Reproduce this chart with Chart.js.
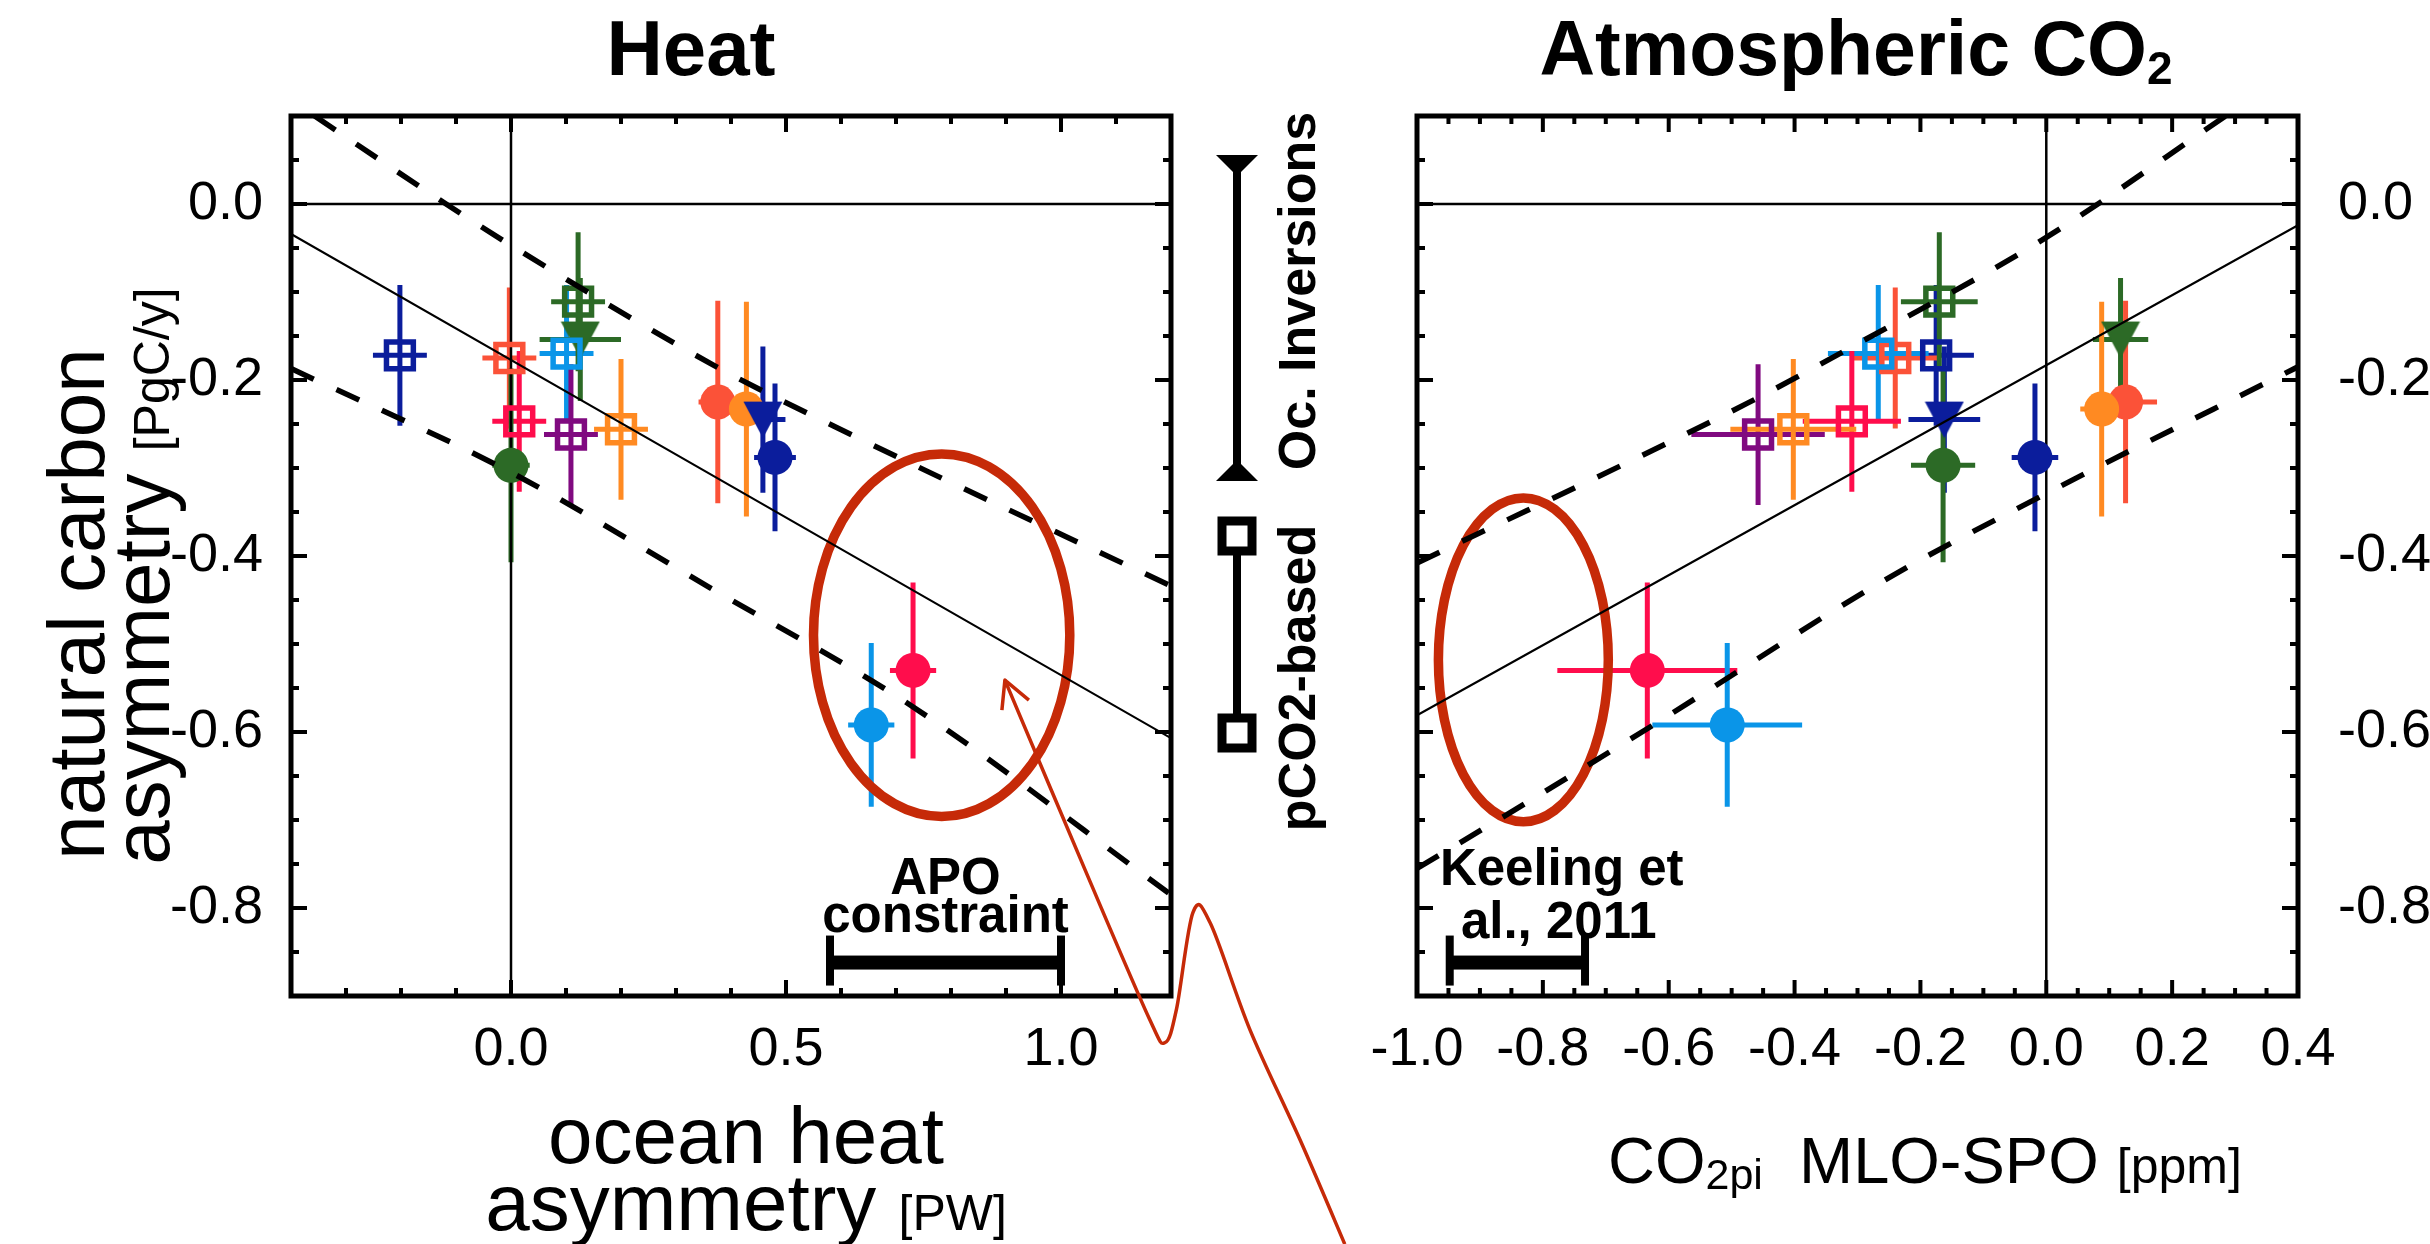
<!DOCTYPE html>
<html>
<head>
<meta charset="utf-8">
<script src="https://cdn.jsdelivr.net/npm/chart.js@4.4.1/dist/chart.umd.min.js"></script>
<style>
  html, body { margin: 0; padding: 0; background: #fff; }
  #wrap { position: relative; width: 2430px; height: 1244px; overflow: hidden; background: #fff; }
  #wrap canvas { position: absolute; left: 0; top: 0; }
</style>
</head>
<body>
<div id="wrap">
  <canvas id="heatChart" width="2430" height="1244"></canvas>
  <canvas id="co2Chart" width="2430" height="1244"></canvas>
</div>
<script>
const FONT = "'Liberation Sans', Arial, Helvetica, sans-serif";

// ---- estimates, one entry per model / product ----
const symbols = ['square', 'square', 'square', 'square', 'square', 'square', 'square',
                 'triangle', 'triangle',
                 'circle', 'circle', 'circle', 'circle', 'circle', 'circle'];
const colors = ['#0b1d9c', '#fb5238', '#0a95e8', '#2c6a26', '#ff0d4c', '#800a80', '#ff8a22',
                '#2c6a26', '#0b1d9c',
                '#2c6a26', '#fb5238', '#ff8a22', '#0b1d9c', '#ff0d4c', '#0a95e8'];
// natural carbon asymmetry [PgC/y]
const carbonAsym    = [-0.172, -0.175, -0.170, -0.111, -0.247, -0.262, -0.256, -0.154, -0.245, -0.297, -0.225, -0.233, -0.288, -0.530, -0.592];
const carbonAsymErr = [ 0.080,  0.080,  0.078,  0.079,  0.080,  0.080,  0.080,  0.070,  0.083,  0.110,  0.115,  0.122,  0.084,  0.100,  0.093];
// ocean heat asymmetry [PW]
const heatAsym      = [-0.202, -0.003,  0.101,  0.122,  0.015,  0.109,  0.200,  0.126,  0.458,  0.000,  0.376,  0.428,  0.480,  0.731,  0.655];
const heatAsymErr   = [ 0.049,  0.049,  0.049,  0.049,  0.049,  0.049,  0.049,  0.074,  0.041,  0.034,  0.035,  0.030,  0.038,  0.042,  0.042];
// pre-industrial CO2 MLO-SPO [ppm]
const co2Grad       = [-0.175, -0.240, -0.267, -0.170, -0.309, -0.458, -0.402,  0.118, -0.162, -0.164,  0.126,  0.088, -0.018, -0.634, -0.507];
const co2GradErr    = [ 0.060,  0.070,  0.080,  0.061,  0.078,  0.106,  0.100,  0.044,  0.057,  0.051,  0.050,  0.034,  0.037,  0.143,  0.119];

// ---- regression lines and their bands ----
const heatFitX   = [-0.4, 1.2];
const heatFitY   = [-0.034, -0.607];
const heatUpperX = [-0.357, -0.118, 0.0, 0.368, 0.625, 1.2];
const heatUpperY = [ 0.100,  0.000, -0.047, -0.183, -0.264, -0.434];
const heatLowerX = [-0.4, 0.0, 0.359, 0.725, 1.2];
const heatLowerY = [-0.187, -0.305, -0.435, -0.569, -0.785];

const co2FitX   = [-1.0, 0.4];
const co2FitY   = [-0.581, -0.024];
const co2UpperX = [-1.0, -0.474, -0.308, 0.0, 0.285];
const co2UpperY = [-0.408, -0.226, -0.162, -0.038, 0.100];
const co2LowerX = [-1.0, -0.846, -0.620, -0.256, 0.0, 0.4];
const co2LowerY = [-0.755, -0.689, -0.590, -0.427, -0.329, -0.185];

// ---- observational constraints ----
const apoConstraint     = [0.58, 1.0];      // PW
const keelingConstraint = [-0.948, -0.733]; // ppm
const heatEllipse = { cx: 0.783, cy: -0.490, rx: 0.233, ry: 0.206 };
const co2Ellipse  = { cx: -0.831, cy: -0.518, rx: 0.135, ry: 0.184 };

// ---- axes ----
const heatXTicks      = [0.0, 0.5, 1.0];
const heatXTickLabels = ['0.0', '0.5', '1.0'];
const co2XTicks       = [-1.0, -0.8, -0.6, -0.4, -0.2, 0.0, 0.2, 0.4];
const co2XTickLabels  = ['-1.0', '-0.8', '-0.6', '-0.4', '-0.2', '0.0', '0.2', '0.4'];
const carbonYTicks      = [0.0, -0.2, -0.4, -0.6, -0.8];
const carbonYTickLabels = ['0.0', '-0.2', '-0.4', '-0.6', '-0.8'];

// callout curve, in ocean-heat axis units
const calloutPath = [[0.898, -0.541], [1.044, -0.757], [1.160, -0.925], [1.189, -0.953],
                     [1.210, -0.915], [1.240, -0.805], [1.272, -0.818], [1.344, -0.939],
                     [1.435, -1.064], [1.516, -1.182]];

// ---------- helpers ----------
function seq(min, max, step) {
  const out = [];
  const n = Math.round((max - min) / step);
  for (let i = 0; i <= n; i++) out.push(+(min + i * step).toFixed(4));
  return out;
}
function pts(xs, ys) { return xs.map((x, i) => ({ x, y: ys[i] })); }
function pick(arr, kind) { return arr.filter((_, i) => symbols[i] === kind); }

// downward filled triangle used as a point style
const triangleCache = {};
function downTriangle(color) {
  if (triangleCache[color]) return triangleCache[color];
  const c = document.createElement('canvas');
  c.width = 40; c.height = 38;
  const g = c.getContext('2d');
  g.fillStyle = color;
  g.beginPath();
  g.moveTo(0.5, 1); g.lineTo(39.5, 1); g.lineTo(20, 37.5); g.closePath();
  g.fill();
  triangleCache[color] = c;
  return c;
}

function drawRuns(ctx, runs, x, y, align) {
  let total = 0;
  runs.forEach(r => {
    ctx.font = `${r.weight || 'normal'} ${r.size}px ${FONT}`;
    r.w = ctx.measureText(r.t).width;
    total += r.w;
  });
  let cx = align === 'center' ? x - total / 2 : (align === 'right' ? x - total : x);
  ctx.textAlign = 'left';
  ctx.textBaseline = 'alphabetic';
  runs.forEach(r => {
    ctx.font = `${r.weight || 'normal'} ${r.size}px ${FONT}`;
    ctx.fillText(r.t, cx, y + (r.dy || 0));
    cx += r.w;
  });
}
function drawRotated(ctx, runs, x, y) {
  ctx.save();
  ctx.translate(x, y);
  ctx.rotate(-Math.PI / 2);
  drawRuns(ctx, runs, 0, 0, 'center');
  ctx.restore();
}
function smoothPath(ctx, p) {
  ctx.moveTo(p[0][0], p[0][1]);
  for (let i = 0; i < p.length - 1; i++) {
    const p0 = p[i - 1] || p[i], p1 = p[i], p2 = p[i + 1], p3 = p[i + 2] || p2;
    ctx.bezierCurveTo(p1[0] + (p2[0] - p0[0]) / 6, p1[1] + (p2[1] - p0[1]) / 6,
                      p2[0] - (p3[0] - p1[0]) / 6, p2[1] - (p3[1] - p1[1]) / 6,
                      p2[0], p2[1]);
  }
}

// ---------- plugins ----------
const errorBars = {
  id: 'errorBars',
  beforeDatasetsDraw(chart, args, o) {
    const { ctx, scales: { x: sx, y: sy } } = chart;
    ctx.save();
    ctx.lineWidth = 5;
    o.x.forEach((xv, i) => {
      const yv = o.y[i];
      ctx.strokeStyle = o.colors[i];
      ctx.beginPath();
      ctx.moveTo(sx.getPixelForValue(xv), sy.getPixelForValue(yv + o.yErr[i]));
      ctx.lineTo(sx.getPixelForValue(xv), sy.getPixelForValue(yv - o.yErr[i]));
      ctx.moveTo(sx.getPixelForValue(xv - o.xErr[i]), sy.getPixelForValue(yv));
      ctx.lineTo(sx.getPixelForValue(xv + o.xErr[i]), sy.getPixelForValue(yv));
      ctx.stroke();
    });
    ctx.restore();
  }
};

const frame = {
  id: 'frame',
  beforeDatasetsDraw(chart, args, o) {
    const { ctx, chartArea: a, scales: { x: sx, y: sy } } = chart;
    ctx.save();
    ctx.strokeStyle = '#000';
    ctx.lineWidth = 2.5;
    ctx.beginPath();
    const x0 = sx.getPixelForValue(0), y0 = sy.getPixelForValue(0);
    ctx.moveTo(x0, a.top); ctx.lineTo(x0, a.bottom);
    ctx.moveTo(a.left, y0); ctx.lineTo(a.right, y0);
    ctx.stroke();
    // constraint ellipse
    const e = o.ellipse;
    const ex = sx.getPixelForValue(e.cx), ey = sy.getPixelForValue(e.cy);
    const erx = Math.abs(sx.getPixelForValue(e.cx + e.rx) - ex);
    const ery = Math.abs(sy.getPixelForValue(e.cy + e.ry) - ey);
    ctx.strokeStyle = '#c62a08';
    ctx.lineWidth = 9.5;
    ctx.beginPath();
    ctx.ellipse(ex, ey, erx, ery, 0, 0, Math.PI * 2);
    ctx.stroke();
    ctx.restore();
  },
  afterDatasetsDraw(chart, args, o) {
    const { ctx, chartArea: a, scales: { x: sx, y: sy } } = chart;
    ctx.save();
    ctx.strokeStyle = '#000';
    ctx.lineWidth = 4;
    ctx.beginPath();
    const near = (v, arr) => arr.some(t => Math.abs(t - v) < 1e-6);
    o.xMinor.forEach(v => {
      const p = sx.getPixelForValue(v);
      const len = near(v, o.xMajor) ? 16 : 8;
      ctx.moveTo(p, a.bottom); ctx.lineTo(p, a.bottom - len);
      ctx.moveTo(p, a.top); ctx.lineTo(p, a.top + len);
    });
    o.yMinor.forEach(v => {
      const p = sy.getPixelForValue(v);
      const len = near(v, o.yMajor) ? 16 : 8;
      ctx.moveTo(a.left, p); ctx.lineTo(a.left + len, p);
      ctx.moveTo(a.right, p); ctx.lineTo(a.right - len, p);
    });
    ctx.stroke();
    ctx.lineWidth = 5;
    ctx.strokeRect(a.left, a.top, a.right - a.left, a.bottom - a.top);
    ctx.restore();
  }
};

const constraintBar = {
  id: 'constraintBar',
  afterDraw(chart, args, o) {
    const { ctx, scales: { x: sx, y: sy } } = chart;
    const x1 = sx.getPixelForValue(o.range[0]), x2 = sx.getPixelForValue(o.range[1]);
    const yb = sy.getPixelForValue(-0.862);
    ctx.save();
    ctx.fillStyle = '#000';
    ctx.fillRect(x1, yb - 7, x2 - x1, 14);
    ctx.fillRect(x1 - 4, yb - 27, 8, 50);
    ctx.fillRect(x2 - 4, yb - 27, 8, 50);
    const tx = sx.getPixelForValue(o.labelX);
    o.lines.forEach((t, i) => {
      drawRuns(ctx, [{ t, size: 51, weight: 'bold' }], tx + (o.dx[i] || 0), yb + o.dy[i], 'center');
    });
    ctx.restore();
  }
};

const heatDecor = {
  id: 'heatDecor',
  afterDraw(chart) {
    const { ctx, scales: { x: sx, y: sy } } = chart;
    ctx.save();
    ctx.fillStyle = '#000';
    // panel title
    drawRuns(ctx, [{ t: 'Heat', size: 78, weight: 'bold' }], 691, 75, 'center');
    // x axis title
    drawRuns(ctx, [{ t: 'ocean heat', size: 80 }], 746, 1163, 'center');
    drawRuns(ctx, [{ t: 'asymmetry ', size: 80 }, { t: '[PW]', size: 50 }], 746, 1230, 'center');
    // y axis title
    drawRotated(ctx, [{ t: 'natural carbon', size: 80 }], 104, 604);
    drawRotated(ctx, [{ t: 'asymmetry ', size: 80 }, { t: '[PgC/y]', size: 50 }], 169, 576);

    // symbol key between the panels
    const lx = 1237;
    ctx.strokeStyle = '#000';
    ctx.lineWidth = 8;
    ctx.beginPath();
    ctx.moveTo(lx, 160); ctx.lineTo(lx, 476);
    ctx.moveTo(lx, 551); ctx.lineTo(lx, 718);
    ctx.stroke();
    ctx.beginPath();
    ctx.moveTo(lx - 21, 155); ctx.lineTo(lx + 21, 155); ctx.lineTo(lx, 176); ctx.closePath();
    ctx.moveTo(lx - 21, 481); ctx.lineTo(lx + 21, 481); ctx.lineTo(lx, 460); ctx.closePath();
    ctx.fill();
    ctx.lineWidth = 9;
    ctx.strokeRect(lx - 15, 536 - 15, 30, 30);
    ctx.strokeRect(lx - 15, 733 - 15, 30, 30);
    drawRotated(ctx, [{ t: 'Oc. Inversions', size: 52, weight: 'bold' }], 1315, 291);
    drawRotated(ctx, [{ t: 'pCO2-based', size: 52, weight: 'bold' }], 1315, 678);

    // callout curve with open arrow head
    const path = calloutPath.map(([x, y]) => [sx.getPixelForValue(x), sy.getPixelForValue(y)]);
    ctx.strokeStyle = '#c62a08';
    ctx.lineWidth = 3.5;
    ctx.lineJoin = 'round';
    ctx.beginPath();
    smoothPath(ctx, path);
    ctx.stroke();
    const [tx, ty] = path[0];
    ctx.beginPath();
    ctx.moveTo(tx - 3, ty + 30); ctx.lineTo(tx, ty); ctx.lineTo(tx + 24, ty + 20);
    ctx.stroke();
    ctx.restore();
  }
};

const co2Decor = {
  id: 'co2Decor',
  afterDraw(chart) {
    const { ctx } = chart;
    ctx.save();
    ctx.fillStyle = '#000';
    drawRuns(ctx, [{ t: 'Atmospheric CO', size: 77, weight: 'bold' }, { t: '2', size: 46, weight: 'bold', dy: 9 }], 1856, 75, 'center');
    drawRuns(ctx, [{ t: 'CO', size: 65 }, { t: '2pi', size: 43, dy: 6 }, { t: '  MLO-SPO ', size: 65 }, { t: '[ppm]', size: 50 }], 1608, 1183, 'left');
    ctx.restore();
  }
};

// ---------- datasets ----------
function markerSets(xs) {
  return [
    {
      label: 'pCO2-based',
      data: pts(pick(xs, 'square'), pick(carbonAsym, 'square')),
      pointStyle: 'rect', pointRadius: 19, pointBorderWidth: 5.5,
      pointBackgroundColor: 'rgba(0,0,0,0)', pointBorderColor: pick(colors, 'square'),
      order: 2
    },
    {
      label: 'Oc. Inversions',
      data: pts(pick(xs, 'triangle'), pick(carbonAsym, 'triangle')),
      pointStyle: pick(colors, 'triangle').map(downTriangle), pointRadius: 20,
      order: 2
    },
    {
      label: 'models',
      data: pts(pick(xs, 'circle'), pick(carbonAsym, 'circle')),
      pointStyle: 'circle', pointRadius: 17.5, pointBorderWidth: 0,
      pointBackgroundColor: pick(colors, 'circle'), pointBorderColor: pick(colors, 'circle'),
      order: 2
    }
  ];
}
function lineSet(xs, ys, dashed) {
  return {
    data: pts(xs, ys), showLine: true, pointRadius: 0,
    borderColor: '#000', borderWidth: dashed ? 5.5 : 2.2,
    borderDash: dashed ? [25, 25] : [],
    cubicInterpolationMode: 'monotone', fill: false, order: 0
  };
}
function yScale(position, width, padding) {
  return {
    type: 'linear', min: -0.9, max: 0.1, position,
    afterBuildTicks: s => { s.ticks = carbonYTicks.map(v => ({ value: v })); },
    afterFit: s => { s.width = width; },
    grid: { display: false, drawTicks: false }, border: { display: false },
    ticks: {
      color: '#000', padding, font: { family: FONT, size: 54 },
      callback: (v, i) => carbonYTickLabels[i]
    }
  };
}
function xScale(min, max, ticks, labels) {
  return {
    type: 'linear', min, max, position: 'bottom',
    afterBuildTicks: s => { s.ticks = ticks.map(v => ({ value: v })); },
    afterFit: s => { s.height = 248; },
    grid: { display: false, drawTicks: false }, border: { display: false },
    ticks: {
      color: '#000', padding: 22, maxRotation: 0, autoSkip: false,
      font: { family: FONT, size: 54 },
      callback: (v, i) => labels[i]
    }
  };
}
const common = { responsive: false, animation: false, events: [] };

new Chart(document.getElementById('heatChart'), {
  type: 'scatter',
  data: {
    datasets: [
      ...markerSets(heatAsym),
      lineSet(heatFitX, heatFitY, false),
      lineSet(heatUpperX, heatUpperY, true),
      lineSet(heatLowerX, heatLowerY, true)
    ]
  },
  options: {
    ...common,
    layout: { padding: { left: 0, right: 2430 - 1171, top: 116, bottom: 0 } },
    scales: {
      x: xScale(-0.4, 1.2, heatXTicks, heatXTickLabels),
      y: yScale('left', 291, 28)
    },
    plugins: {
      legend: { display: false }, tooltip: { enabled: false },
      errorBars: { x: heatAsym, xErr: heatAsymErr, y: carbonAsym, yErr: carbonAsymErr, colors },
      frame: { xMinor: seq(-0.4, 1.2, 0.1), xMajor: heatXTicks, yMinor: seq(-0.9, 0.1, 0.05), yMajor: carbonYTicks, ellipse: heatEllipse },
      constraintBar: { range: apoConstraint, labelX: 0.79, lines: ['APO', 'constraint'], dx: [0, 0], dy: [-69, -31] }
    }
  },
  plugins: [errorBars, frame, constraintBar, heatDecor]
});

new Chart(document.getElementById('co2Chart'), {
  type: 'scatter',
  data: {
    datasets: [
      ...markerSets(co2Grad),
      lineSet(co2FitX, co2FitY, false),
      lineSet(co2UpperX, co2UpperY, true),
      lineSet(co2LowerX, co2LowerY, true)
    ]
  },
  options: {
    ...common,
    layout: { padding: { left: 1417, right: 0, top: 116, bottom: 0 } },
    scales: {
      x: xScale(-1.0, 0.4, co2XTicks, co2XTickLabels),
      y: yScale('right', 2430 - 2298, 40)
    },
    plugins: {
      legend: { display: false }, tooltip: { enabled: false },
      errorBars: { x: co2Grad, xErr: co2GradErr, y: carbonAsym, yErr: carbonAsymErr, colors },
      frame: { xMinor: seq(-1.0, 0.4, 0.05), xMajor: co2XTicks, yMinor: seq(-0.9, 0.1, 0.05), yMajor: carbonYTicks, ellipse: co2Ellipse },
      constraintBar: { range: keelingConstraint, labelX: -0.77, lines: ['Keeling et', 'al., 2011'], dx: [0, -3], dy: [-78, -25] }
    }
  },
  plugins: [errorBars, frame, constraintBar, co2Decor]
});
</script>
</body>
</html>
